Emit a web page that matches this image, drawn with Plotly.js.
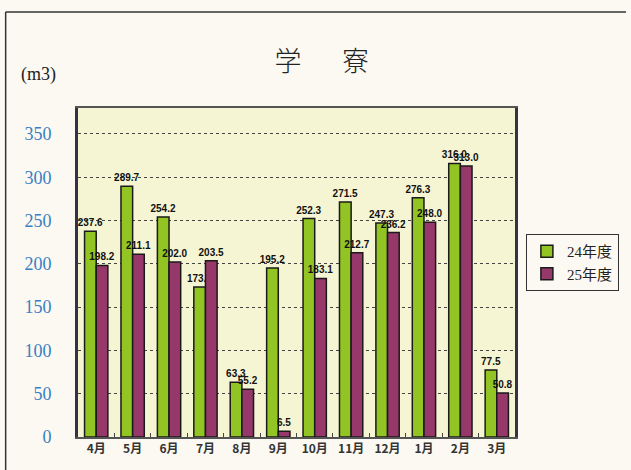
<!DOCTYPE html>
<html><head><meta charset="utf-8">
<script src="https://cdn.plot.ly/plotly-3.0.1.min.js"></script>
<style>html,body{margin:0;padding:0;background:#fbf9f2;}#c{width:631px;height:470px;}</style>
</head><body><div id="c"></div>
<script>
const months = ['4月','5月','6月','7月','8月','9月','10月','11月','12月','1月','2月','3月'];
const fy24 = [237.6, 289.7, 254.2, 173.3, 63.3, 195.2, 252.3, 271.5, 247.3, 276.3, 316.0, 77.5];
const fy25 = [198.2, 211.1, 202.0, 203.5, 55.2, 6.5, 183.1, 212.7, 236.2, 248.0, 313.0, 50.8];
const seriesNames = ['24年度','25年度'];
const yTicks = [0,50,100,150,200,250,300,350];

const labelFont = {family:'"Liberation Sans Narrow","Arial Narrow","Liberation Sans",sans-serif', size:10, color:'#111', weight:'bold'};
const traces = [
  {type:'bar', name:seriesNames[0], x:months, y:fy24,
   marker:{color:'#92c424', line:{color:'#1a1a1a', width:1.5}},
   texttemplate:'%{y:.1f}', textposition:'outside', constraintext:'none', textfont:labelFont, cliponaxis:false},
  {type:'bar', name:seriesNames[1], x:months, y:fy25,
   marker:{color:'#96386a', line:{color:'#1a1a1a', width:1.5}},
   texttemplate:'%{y:.1f}', textposition:'outside', constraintext:'none', textfont:labelFont, cliponaxis:false}
];
const L = 78, R = 519, T = 108, B = 437, W = 631, H = 470;
const px = v => (v - L) / (R - L);
const py = v => (B - v) / (B - T);
const layout = {
  width:W, height:H,
  margin:{l:L, r:W-R, t:T, b:H-B, pad:0},
  paper_bgcolor:'#fbf9f2', plot_bgcolor:'#f6f5d3',
  barmode:'group', bargap:0.36, bargroupgap:0,
  showlegend:true,
  legend:{x:px(530), y:py(234), xanchor:'left', yanchor:'top',
    bgcolor:'rgba(0,0,0,0)', bordercolor:'#333', borderwidth:1,
    font:{family:'"Liberation Serif","Noto Sans CJK JP",serif', size:15, color:'#222'},
    itemwidth:30, tracegroupgap:2},
  title:{text:'学　\u2002寮', x:0.51, xanchor:'center', y:1-62/H, yanchor:'middle',
    font:{family:'"Noto Sans CJK JP",serif', size:27, color:'#222', weight:300}},
  xaxis:{type:'category', showline:true, linecolor:'#555', linewidth:2, mirror:true,
    ticks:'inside', tickson:'boundaries', ticklen:4, tickcolor:'#444',
    tickfont:{family:'"Noto Sans CJK JP",sans-serif', size:12, color:'#333', weight:'bold'},
    showgrid:false, zeroline:false},
  yaxis:{range:[0,380], tickvals:yTicks, showline:true, linecolor:'#334', linewidth:3, mirror:true,
    ticks:'', ticklabelstandoff:20,
    tickfont:{family:'"Liberation Serif","DejaVu Serif",serif', size:18, color:'#3a7fc4'},
    showgrid:true, gridcolor:'#444', griddash:'dot', gridwidth:1, zeroline:false},
  annotations:[
    {text:'(m3)', xref:'paper', yref:'paper', x:px(18), y:py(75), xanchor:'left', yanchor:'middle',
     showarrow:false, font:{family:'"Liberation Serif",serif', size:18, color:'#222'}}
  ],
  shapes:[
    {type:'line', xref:'paper', yref:'paper', x0:px(5), x1:px(631), y0:py(12), y1:py(12), line:{color:'#333', width:1.5}},
    {type:'line', xref:'paper', yref:'paper', x0:px(5), x1:px(5), y0:py(12), y1:py(470), line:{color:'#333', width:1.5}}
  ]
};
Plotly.newPlot('c', traces, layout, {displayModeBar:false, staticPlot:true});
</script></body></html>
